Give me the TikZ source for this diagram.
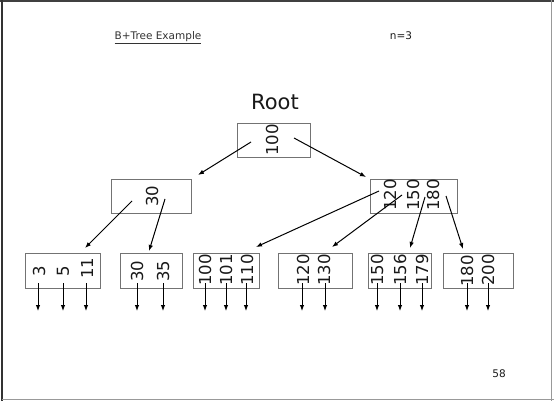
\documentclass[tikz,border=0pt]{standalone}
\usepackage{fontspec}
\setmainfont{DejaVu Sans}
\usetikzlibrary{arrows.meta}

\begin{document}
\begin{tikzpicture}
  [x=1pt,y=-1pt,every node/.style={inner sep=0pt,text=black!90}]
  \tikzstyle{box} = [draw=black!55,line width=.8pt,shape=rectangle,minimum height=34pt]
  \tikzstyle{key} = [rotate=90,font=\fontsize{16.5}{18}\selectfont]
  \tikzstyle{small} = [font=\fontsize{10.5}{12}\selectfont]
  \tikzstyle{ptr} = [line width=1pt,-{Latex[length=6pt,width=4.5pt]}]
  \useasboundingbox (0,0) rectangle (554,401);
  % slide frame
  \draw[black!75,line width=2.5pt] (0,1) -- (554,1);
  \draw[black!80,line width=2pt] (2,0) -- (2,401);
  \draw[black!40,line width=1.5pt] (551.5,0) -- (551.5,401);
  \draw[black!40,line width=1.5pt] (2,399.5) -- (554,399.5);
  % headings
  \node[small,text=black!80] (title) at (158,38) {\underline{B+Tree Example}};
  \node[small] (order) at (401,36) {n=3};
  \node[font=\fontsize{21}{24}\selectfont] (rootlbl) at (275,102) {Root};
  \node[small] (page) at (499,374) {58};
  % tree nodes
  \node[box,minimum width=73pt] (root) at (273.5,140) {};
  \node[box,minimum width=80pt] (i1) at (151,196) {};
  \node[box,minimum width=87pt] (i2) at (413.5,196) {};
  \node[box,minimum width=75pt,minimum height=35pt] (l1) at (62.5,271) {};
  \node[box,minimum width=62pt,minimum height=35pt] (l2) at (151,271) {};
  \node[box,minimum width=66pt,minimum height=35pt] (l3) at (226,271) {};
  \node[box,minimum width=74pt,minimum height=35pt] (l4) at (315,271) {};
  \node[box,minimum width=63pt,minimum height=35pt] (l5) at (399.5,271) {};
  \node[box,minimum width=70pt,minimum height=35pt] (l6) at (478,271) {};
  % keys
  \foreach \name/\x/\y/\key in {k0/272/140/100,k1/152/196/30,
    k2/390/195/120,k3/413/195/150,k4/433/195/180,
    k5/39/271/3,k6/63/271/5,k7/87/268/11,k8/137/271/30,k9/163/271/35,
    k10/205/270/100,k11/226/270/101,k12/247/270/110,k13/303/270/120,k14/324/270/130,
    k15/377/270/150,k16/400/270/156,k17/422/270/179,k18/467/271/180,k19/488/270/200}
    \node[key] (\name) at (\x,\y) {\key};
  % pointers
  \coordinate (r1) at (251,142); \coordinate (c1) at (198,175);
  \coordinate (r2) at (294,138); \coordinate (c2) at (366,177);
  \coordinate (a1) at (132,201); \coordinate (t1) at (85,248);
  \coordinate (a2) at (165,199); \coordinate (t2) at (149,251);
  \coordinate (b1) at (379,191); \coordinate (t3) at (256,247);
  \coordinate (b2) at (402,195); \coordinate (t4) at (332,247);
  \coordinate (b3) at (425,197); \coordinate (t5) at (410,248);
  \coordinate (b4) at (446,196); \coordinate (t6) at (463,249);
  \foreach \source/\dest in {r1/c1,r2/c2,a1/t1,a2/t2,b1/t3,b2/t4,b3/t5,b4/t6}
    \draw[ptr] (\source) -- (\dest);
  % record pointers
  \foreach \x [count=\i] in {38,63,86,137,163,205,226,246,302,325,377,400,422,467,488} {
    \coordinate (d\i) at (\x,283); \coordinate (e\i) at (\x,311);
    \draw[ptr] (d\i) -- (e\i);
  }
\end{tikzpicture}
\end{document}
